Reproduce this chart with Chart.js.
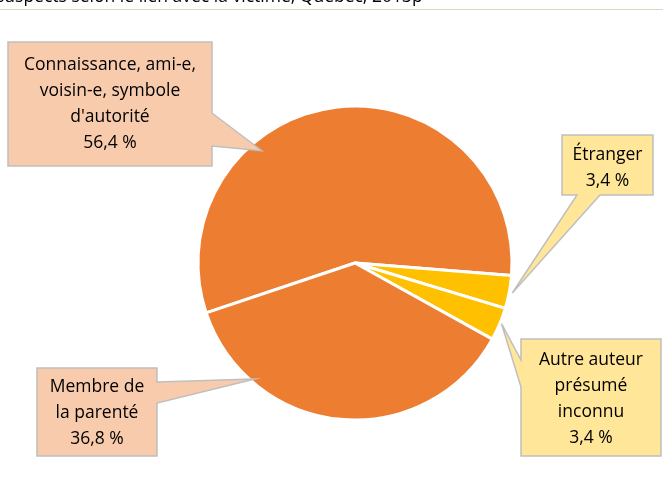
<!DOCTYPE html>
<html>
<head>
<meta charset="utf-8">
<script src="https://cdn.jsdelivr.net/npm/chart.js@4"></script>
<style>
  body { margin: 0; background: #fff; }
</style>
</head>
<body>
<canvas id="pie" width="663" height="491"></canvas>
<script>
// donnees
const categories = ["Connaissance, ami-e, voisin-e, symbole d'autorité", 'Étranger', 'Autre auteur présumé inconnu', 'Membre de la parenté']
const pourcentages = [56.4, 3.4, 3.4, 36.8]
const lignesEtiquettes = [
    ['Connaissance, ami-e,', 'voisin-e, symbole', "d'autorité"],
    ['Étranger'],
    ['Autre auteur', 'présumé', 'inconnu'],
    ['Membre de', 'la parenté']
]
const titre = "suspects selon le lien avec la victime, Québec, 2013p"

const couleurs = ['#ED7D31', '#FFC000', '#FFC000', '#ED7D31']

// bulles : boite, cote de la pointe, base de la pointe, angle (deg depuis le haut) et rayon relatif de la pointe
const bulles = [
    { box: [8, 42, 212, 166], cote: 'right', base: [113, 146], angle: 320.3, r: 0.93, fond: '#F8CBAD', y0: 65 },
    { box: [562, 135, 653, 195], cote: 'bottom', base: [577, 600], angle: 100.8, r: 1.02, fond: '#FFE699', y0: 155 },
    { box: [521, 339, 661, 456], cote: 'left', base: [360, 387], angle: 112.5, r: 1.01, fond: '#FFE699', y0: 360 },
    { box: [37, 368, 157, 456], cote: 'right', base: [382, 403], angle: 220.8, r: 0.975, fond: '#F8CBAD', y0: 387 }
]

const police = '17.5px "Open Sans"'
const format = v => v.toFixed(1).replace('.', ',') + ' %'

function cheminBulle(ctx, b, tip) {
    const [l, t, r, bo] = b.box
    ctx.beginPath()
    ctx.moveTo(l, t)
    ctx.lineTo(r, t)
    if (b.cote === 'right') {
        ctx.lineTo(r, b.base[0]); ctx.lineTo(tip.x, tip.y); ctx.lineTo(r, b.base[1])
    }
    ctx.lineTo(r, bo)
    if (b.cote === 'bottom') {
        ctx.lineTo(b.base[1], bo); ctx.lineTo(tip.x, tip.y); ctx.lineTo(b.base[0], bo)
    }
    ctx.lineTo(l, bo)
    if (b.cote === 'left') {
        ctx.lineTo(l, b.base[1]); ctx.lineTo(tip.x, tip.y); ctx.lineTo(l, b.base[0])
    }
    ctx.closePath()
}

const bullesPlugin = {
    id: 'bulles',
    beforeDraw(chart) {
        const ctx = chart.ctx
        ctx.save()
        ctx.fillStyle = '#000'
        ctx.font = police
        ctx.textBaseline = 'alphabetic'
        ctx.fillText(titre, -4, 2)
        ctx.strokeStyle = '#CDDCBE'
        ctx.lineWidth = 1
        ctx.beginPath()
        ctx.moveTo(0, 9.5)
        ctx.lineTo(663, 9.5)
        ctx.stroke()
        ctx.restore()
    },
    afterDatasetsDraw(chart) {
        const ctx = chart.ctx
        const arcs = chart.getDatasetMeta(0).data
        ctx.save()
        bulles.forEach((b, i) => {
            const arc = arcs[i]
            const a = (b.angle - 90) * Math.PI / 180
            const tip = {
                x: arc.x + Math.cos(a) * arc.outerRadius * b.r,
                y: arc.y + Math.sin(a) * arc.outerRadius * b.r
            }
            cheminBulle(ctx, b, tip)
            ctx.fillStyle = b.fond
            ctx.fill()
            ctx.strokeStyle = '#BFBFBF'
            ctx.lineWidth = 1.5
            ctx.stroke()

            const lignes = lignesEtiquettes[i].concat([format(pourcentages[i])])
            const cx = (b.box[0] + b.box[2]) / 2
            ctx.fillStyle = '#000'
            ctx.font = police
            ctx.textAlign = 'center'
            ctx.textBaseline = 'middle'
            lignes.forEach((txt, k) => ctx.fillText(txt, cx, b.y0 + k * 26))
        })
        ctx.restore()
    }
}

new Chart(document.getElementById('pie'), {
    type: 'pie',
    data: {
        labels: categories,
        datasets: [{
            data: pourcentages,
            backgroundColor: couleurs,
            borderColor: '#FFFFFF',
            borderWidth: 3
        }]
    },
    options: {
        responsive: false,
        animation: false,
        rotation: -108.5,
        radius: 157,
        layout: { padding: { left: 198, right: 151, top: 106, bottom: 71 } },
        plugins: {
            legend: { display: false },
            tooltip: { enabled: false }
        }
    },
    plugins: [bullesPlugin]
})
</script>
</body>
</html>
